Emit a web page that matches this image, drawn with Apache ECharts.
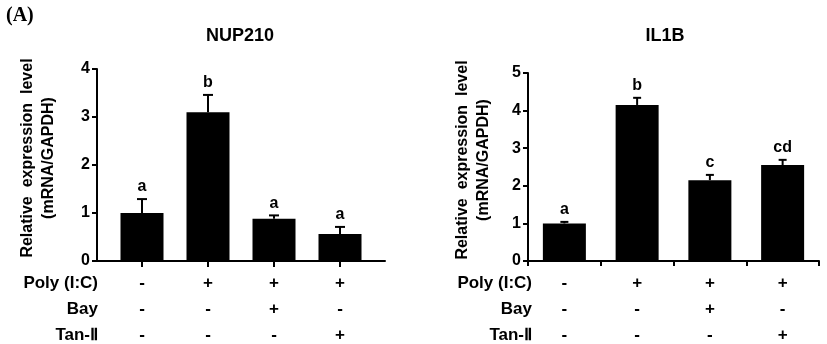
<!DOCTYPE html>
<html>
<head>
<meta charset="utf-8">
<script src="https://cdn.jsdelivr.net/npm/echarts@6/dist/echarts.min.js"></script>
<style>
  html, body { margin: 0; padding: 0; background: #fff; }
  #chart { width: 827px; height: 344px; }
</style>
</head>
<body>
<div id="chart"></div>
<script>
// Treatment groups (one column per bar)
const groups = [0, 1, 2, 3];
const polyIC = ['-', '+', '+', '+'];
const bay    = ['-', '-', '+', '-'];
const tanII  = ['-', '-', '-', '+'];
const rowNames = ['Poly (I:C)', 'Bay', 'Tan-\u2161'];

// NUP210 relative expression: mean and mean + SD
const nupMean = [1.0, 3.1, 0.88, 0.56];
const nupTop  = [1.29, 3.46, 0.95, 0.71];
const nupSig  = ['a', 'b', 'a', 'a'];

// IL1B relative expression: mean and mean + SD
const il1bMean = [1.0, 4.15, 2.15, 2.55];
const il1bTop  = [1.04, 4.34, 2.29, 2.69];
const il1bSig  = ['a', 'b', 'c', 'cd'];

const yTicksNup  = [0, 1, 2, 3, 4];
const yTicksIl1b = [0, 1, 2, 3, 4, 5];

const FONT = 'Liberation Sans, Arial, sans-serif';
const black = '#000';

const chart = echarts.init(document.getElementById('chart'), null, { renderer: 'canvas' });

function treatmentLabel(i) {
  return polyIC[i] + '\n' + bay[i] + '\n' + tanII[i];
}

// Error bar (upper whisker) with significance letter above it
function errorRenderer(capHalf) {
  return function (params, api) {
    const x = api.value(0);
    const base = api.coord([x, api.value(1)]);
    const top = api.coord([x, api.value(2)]);
    return {
      type: 'group',
      children: [
        { type: 'line', shape: { x1: base[0], y1: base[1], x2: top[0], y2: top[1] },
          style: { stroke: black, lineWidth: 2 } },
        { type: 'line', shape: { x1: top[0] - capHalf, y1: top[1], x2: top[0] + capHalf, y2: top[1] },
          style: { stroke: black, lineWidth: 2 } },
        { type: 'text', x: top[0], y: top[1] - 4,
          style: { text: api.value(3), fill: black, font: 'bold 16px ' + FONT,
                   align: 'center', verticalAlign: 'bottom' } }
      ]
    };
  };
}

const axisLineStyle = { color: black, width: 2 };

const yAxisCommon = {
  type: 'value',
  min: 0,
  interval: 1,
  axisLine: { show: true, onZero: false, lineStyle: axisLineStyle },
  axisTick: { show: true, length: 5, lineStyle: axisLineStyle },
  axisLabel: { color: black, fontSize: 16, fontWeight: 'bold', fontFamily: FONT, margin: 7 },
  splitLine: { show: false },
  nameLocation: 'middle',
  nameRotate: 90,
  nameTextStyle: { color: black, fontSize: 16, fontWeight: 'bold', fontFamily: FONT, lineHeight: 21,
                   padding: [0, 0, 0, 14] }
};

const xLabelStyle = {
  color: black, fontSize: 17, fontWeight: 'bold', fontFamily: FONT,
  lineHeight: 26, margin: 9
};

const rowYs = [283, 309, 335];
const graphics = [
  { type: 'text', left: 6, top: 6,
    style: { text: '(A)', font: 'bold 20px "Liberation Serif", "Times New Roman", serif', fill: black } },
  { type: 'text', x: 240, y: 36,
    style: { text: 'NUP210', font: 'bold 18px ' + FONT, fill: black, align: 'center', verticalAlign: 'middle' } },
  { type: 'text', x: 665, y: 36,
    style: { text: 'IL1B', font: 'bold 18px ' + FONT, fill: black, align: 'center', verticalAlign: 'middle' } }
];
rowNames.forEach(function (name, r) {
  graphics.push({ type: 'text', x: 98, y: rowYs[r],
    style: { text: name, font: 'bold 17px ' + FONT, fill: black, align: 'right', verticalAlign: 'middle' } });
  graphics.push({ type: 'text', x: 532, y: rowYs[r],
    style: { text: name, font: 'bold 17px ' + FONT, fill: black, align: 'right', verticalAlign: 'middle' } });
});

const gridBase = { containLabel: false, outerBoundsMode: 'none' };

const option = {
  backgroundColor: '#fff',
  animation: false,
  grid: [
    // NUP210 frame (axis lines)
    Object.assign({ left: 97, right: 442, top: 69, bottom: 83 }, gridBase),
    // NUP210 bars, inset so the groups sit away from both ends of the axis
    Object.assign({ left: 109, right: 454, top: 69, bottom: 83 }, gridBase),
    // IL1B
    Object.assign({ left: 528, right: 8, top: 73, bottom: 83 }, gridBase)
  ],
  xAxis: [
    {
      gridIndex: 0, type: 'value', min: 0, max: 1,
      axisLine: { show: true, onZero: false, lineStyle: axisLineStyle },
      axisTick: { show: false }, axisLabel: { show: false }, splitLine: { show: false }
    },
    {
      gridIndex: 1, type: 'category', data: groups, boundaryGap: true,
      axisLine: { show: false, onZero: false },
      axisTick: { show: true, length: 6, alignWithLabel: true, lineStyle: axisLineStyle },
      axisLabel: Object.assign({ formatter: function (v, i) { return treatmentLabel(i); } }, xLabelStyle),
      splitLine: { show: false }
    },
    {
      gridIndex: 2, type: 'category', data: groups, boundaryGap: true,
      axisLine: { show: true, lineStyle: axisLineStyle },
      axisTick: { show: true, length: 5, alignWithLabel: false, lineStyle: axisLineStyle },
      axisLabel: Object.assign({ formatter: function (v, i) { return treatmentLabel(i); } }, xLabelStyle),
      splitLine: { show: false }
    }
  ],
  yAxis: [
    Object.assign({}, yAxisCommon, {
      gridIndex: 0, max: yTicksNup[yTicksNup.length - 1],
      name: 'Relative  expression  level\n(mRNA/GAPDH)', nameGap: 38
    }),
    {
      gridIndex: 1, type: 'value', min: 0, max: yTicksNup[yTicksNup.length - 1],
      axisLine: { show: false }, axisTick: { show: false }, axisLabel: { show: false },
      splitLine: { show: false }
    },
    Object.assign({}, yAxisCommon, {
      gridIndex: 2, max: yTicksIl1b[yTicksIl1b.length - 1],
      name: 'Relative  expression  level\n(mRNA/GAPDH)', nameGap: 34
    })
  ],
  series: [
    {
      type: 'bar', xAxisIndex: 1, yAxisIndex: 1, barWidth: 43,
      itemStyle: { color: black },
      data: nupMean
    },
    {
      type: 'custom', xAxisIndex: 1, yAxisIndex: 1, z: 5,
      renderItem: errorRenderer(5),
      data: groups.map(function (g, i) { return [i, nupMean[i], nupTop[i], nupSig[i]]; })
    },
    {
      type: 'bar', xAxisIndex: 2, yAxisIndex: 2, barWidth: 43,
      itemStyle: { color: black },
      data: il1bMean
    },
    {
      type: 'custom', xAxisIndex: 2, yAxisIndex: 2, z: 5,
      renderItem: errorRenderer(4),
      data: groups.map(function (g, i) { return [i, il1bMean[i], il1bTop[i], il1bSig[i]]; })
    }
  ],
  graphic: graphics
};

chart.setOption(option);
</script>
</body>
</html>
